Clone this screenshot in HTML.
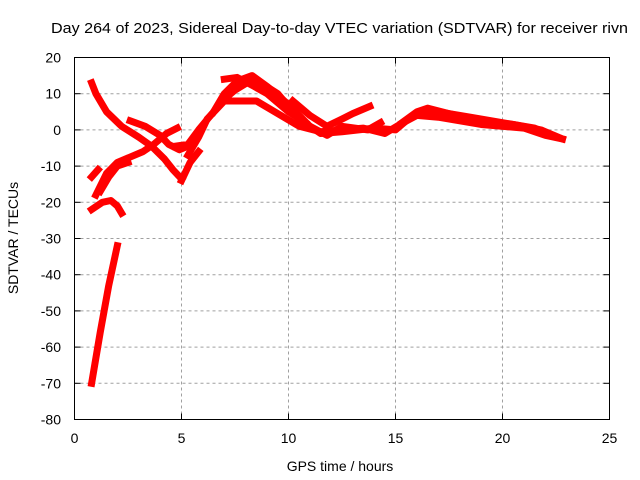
<!DOCTYPE html>
<html><head><meta charset="utf-8"><style>
html,body{margin:0;padding:0;background:#fff}
svg{display:block;font-family:"Liberation Sans",sans-serif}
</style></head><body>
<svg id="chart" width="640" height="480" viewBox="0 0 640 480">
<text x="51" y="33" font-size="15" textLength="577" lengthAdjust="spacingAndGlyphs" fill="#000">Day 264 of 2023, Sidereal Day-to-day VTEC variation (SDTVAR) for receiver rivn</text>
<g id="grid"></g>
<g id="axes"></g>
<g id="series"></g>
<rect x="74.5" y="57.5" width="535" height="362" fill="none" stroke="#000" stroke-width="1"/>
<text x="340" y="471" font-size="14" text-anchor="middle">GPS time / hours</text>
<text transform="translate(18,238) rotate(-90)" font-size="14" text-anchor="middle">SDTVAR / TECUs</text>
</svg>
<script>
const xTicks=[0,5,10,15,20,25];
const yTicks=[20,10,0,-10,-20,-30,-40,-50,-60,-70,-80];
const track1=[[0.8,13],[1.0,10],[1.5,5],[2.2,1],[3,-2],[3.6,-4.5],[4.2,-8],[4.6,-11],[5.0,-13.5]];
const track2=[[0.8,-13],[1.1,-11]];
const track3=[[1.0,-18],[1.5,-12],[2,-9],[2.6,-7.5],[3.2,-6],[3.7,-4],[4.3,-1],[4.8,0.5]];
const track4=[[1.2,-17],[1.6,-13],[2,-10],[2.5,-9]];
const track5=[[0.8,-22],[1.3,-20],[1.7,-19.5],[2.0,-21],[2.2,-23]];
const track6=[[0.8,-70],[1.2,-56],[1.6,-43],[2.0,-32]];
const track7=[[2.6,2.5],[3.3,1],[4.0,-1.5],[4.4,-4],[4.9,-5.5],[5.3,-4.5],[5.8,-1]];
const track8=[[4.7,-4.5],[5.3,-4],[5.8,0],[6.5,5],[7,8.5],[7.5,11],[8.2,13.5],[8.7,13],[9.5,10],[10.5,3],[11.5,-1],[12.5,-0.5],[14,0.5],[15,0],[15.6,3],[16.3,5.5],[17,5],[18.5,3.5],[20,2],[21.5,0.5],[22.3,-1.5],[22.8,-2.5]];
const track9=[[5.3,-7],[5.8,-2],[6.2,3],[7,8],[8.5,8],[9.5,4.5],[10.5,1],[11.5,-0.5],[12.5,0],[13.5,0.5],[14.5,-1],[15.2,1.5],[16,4],[17,3.5],[19,1.5],[21,0.5],[22,-1.5],[22.8,-2.5]];
const track10=[[6.5,5],[7,10],[7.6,13.5],[8.3,15],[9,12],[10,7],[11,1],[11.8,-1.5],[12.5,1],[13.7,0],[14.3,2]];
const track11=[[10.2,8],[11,4],[11.8,1],[12.5,3],[13,4.5],[13.8,6.5]];
const track12=[[7,14],[7.6,14.5],[8.4,12],[9,10],[10,5],[10.8,2]];
const track13=[[5.0,-14],[5.4,-9],[5.8,-6]];
const track14=[[15.3,2],[16,5],[16.5,6],[17.5,4.5],[19,2.5],[20.5,1.5],[21.8,0],[22.6,-2]];
const tracks=[track1,track2,track3,track4,track5,track6,track7,track8,track9,track10,track11,track12,track13,track14];
const X0=74.5,X1=609.5,Y0=57.5,Y1=419.5;
function sx(v){return X0+(v-0)/25*(X1-X0);}
function sy(v){return Y0+(20-v)/100*(Y1-Y0);}
const NS="http://www.w3.org/2000/svg";
const grid=document.getElementById('grid'),axes=document.getElementById('axes'),series=document.getElementById('series');
function mk(tag,attrs,parent){const e=document.createElementNS(NS,tag);for(const k in attrs)e.setAttribute(k,attrs[k]);parent.appendChild(e);return e;}
xTicks.forEach(t=>{
  const x=sx(t);
  if(t>0&&t<25){const g=mk('line',{x1:x,x2:x,y1:Y0,y2:Y1,stroke:'#a0a0a0','stroke-dasharray':'3,3'},grid);
  
  }
  const a=mk('line',{x1:x,x2:x,y1:Y1,y2:Y1-6,stroke:'#000'},axes);
  
  
  const b=mk('line',{x1:x,x2:x,y1:Y0,y2:Y0+6,stroke:'#000'},axes);
  
  
  const l=mk('text',{x:x,y:443,'font-size':14,'text-anchor':'middle'},axes);l.textContent=t;
  
  
});
yTicks.forEach(t=>{
  const y=sy(t);
  if(t<20&&t>-80){const g=mk('line',{x1:X0,x2:X1,y1:y,y2:y,stroke:'#a0a0a0','stroke-dasharray':'3,3'},grid);
  
  }
  const a=mk('line',{x1:X0,x2:X0+6,y1:y,y2:y,stroke:'#000'},axes);
  
  
  const b=mk('line',{x1:X1,x2:X1-6,y1:y,y2:y,stroke:'#000'},axes);
  
  
  const l=mk('text',{x:61,y:y+5,'font-size':14,'text-anchor':'end'},axes);l.textContent=t;
  
  
});
tracks.forEach(tr=>{
  const p=mk('polyline',{points:tr.map(d=>sx(d[0])+','+sy(d[1])).join(' '),fill:'none',stroke:'#ff0000','stroke-width':7,'stroke-linejoin':'round','stroke-linecap':'square'},series);
  
  
});
</script>
</body></html>
